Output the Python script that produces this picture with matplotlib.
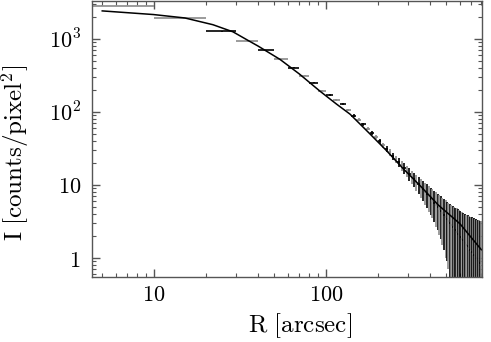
import matplotlib
matplotlib.use("Agg")
import matplotlib.pyplot as plt
from matplotlib.ticker import FixedLocator, FixedFormatter, LogLocator, NullFormatter

plt.rcParams['mathtext.fontset'] = 'cm'
plt.rcParams['font.family'] = 'serif'
plt.rcParams['font.serif'] = ['DejaVu Serif']

# binned surface brightness profile (bin centres, half width 5 arcsec)
R = [5, 15, 25, 35, 45, 55, 65, 75, 85, 95,
     105, 115, 125, 135, 145, 155, 165, 175, 185, 195,
     205, 215, 225, 235, 245, 255, 265, 275, 285, 295,
     305, 315, 325, 335, 345, 355, 365, 375, 385, 395,
     405, 415, 425, 435, 445, 455, 465, 475, 485, 495,
     505, 515, 525, 535, 545, 555, 565, 575, 585, 595,
     605, 615, 625, 635, 645, 655, 665, 675, 685, 695,
     705, 715, 725, 735, 745, 755, 765, 775, 785, 795]
R_halfwidth = 5

I = [2850, 1900, 1260, 930, 695, 525, 405, 312, 252, 196,
     170, 147, 128, 105, 89, 78, 68, 59, 52, 45,
     39.5, 35, 31, 28, 25, 22.5, 20.5, 18.5, 17, 15.5,
     14.2, 13, 12, 11, 10.2, 9.4, 8.7, 8.1, 7.5, 7.0,
     6.5, 6.1, 5.7, 5.3, 5.0, 4.7, 4.4, 4.1, 3.9, 3.6,
     3.4, 3.2, 3.0, 2.85, 2.7, 2.55, 2.4, 2.3, 2.15, 2.05,
     1.95, 1.85, 1.75, 1.65, 1.6, 1.5, 1.45, 1.35, 1.3, 1.25,
     1.2, 1.15, 1.1, 1.05, 1.0, 0.95, 0.9, 0.88, 0.85, 0.8]

I_err = [40, 30, 20, 15, 12, 9, 7, 6, 5, 4.5,
         4.2, 4, 3.8, 3.6, 3.4, 3.3, 3.2, 3.1, 3.0, 3.0,
         2.9, 2.9, 2.9, 2.9, 2.8, 2.8, 2.8, 2.8, 2.8, 2.8,
         2.7, 2.7, 2.7, 2.7, 2.7, 2.7, 2.7, 2.7, 2.7, 2.7,
         2.6, 2.6, 2.6, 2.6, 2.6, 2.6, 2.6, 2.6, 2.6, 2.6,
         2.5, 2.5, 2.5, 2.5, 2.5, 2.5, 2.5, 2.5, 2.5, 2.5,
         2.4, 2.4, 2.4, 2.4, 2.4, 2.4, 2.4, 2.4, 2.4, 2.4,
         2.4, 2.4, 2.4, 2.4, 2.4, 2.4, 2.4, 2.4, 2.4, 2.4]

# model profile
R_model = [5.0, 9.9, 15.1, 22, 28.8, 35.2, 40.3, 54, 70, 92, 115, 138,
           180, 225, 281, 352, 450, 601, 700, 800]
I_model = [2410, 2150, 1930, 1560, 1245, 951, 795, 523, 330, 193, 128, 93,
           50, 29.4, 16.7, 9.8, 5.3, 2.94, 1.9, 1.3]

fig = plt.figure(figsize=(4.91, 3.42), dpi=100)
ax = fig.add_axes([0.1874, 0.19, 0.7943, 0.807])

for i in range(len(R)):
    c = '#8a8a8a' if (i % 2 == 1 or i == 0) else 'black'
    lo = min(I_err[i], I[i] * 0.9999)
    ax.errorbar(R[i], I[i], xerr=R_halfwidth, yerr=[[lo], [I_err[i]]],
                fmt='none', ecolor=c, elinewidth=1.2, capsize=0)

ax.plot(R_model, I_model, color='black', lw=1.1)

ax.set_xscale('log')
ax.set_yscale('log')
ax.set_xlim(4.36, 807)
ax.set_ylim(0.55, 3290)

ax.xaxis.set_major_locator(FixedLocator([10, 100]))
ax.xaxis.set_major_formatter(FixedFormatter([r'$10$', r'$100$']))
ax.xaxis.set_minor_locator(LogLocator(base=10, subs=range(2, 10)))
ax.xaxis.set_minor_formatter(NullFormatter())
ax.yaxis.set_major_locator(FixedLocator([1, 10, 100, 1000]))
ax.yaxis.set_major_formatter(FixedFormatter([r'$1$', r'$10$', r'$10^2$', r'$10^3$']))
ax.yaxis.set_minor_locator(LogLocator(base=10, subs=range(2, 10)))
ax.yaxis.set_minor_formatter(NullFormatter())

ax.tick_params(which='both', direction='in', top=True, right=True, color='#555555')
ax.tick_params(which='major', length=6, width=1, labelsize=16, pad=8)
ax.tick_params(axis='x', which='major', pad=5)
ax.tick_params(which='minor', length=3, width=0.8)
for s in ax.spines.values():
    s.set_color('#555555')
    s.set_linewidth(1.0)

ax.set_xlabel(r'$\mathrm{R\ [arcsec]}$', fontsize=18)
ax.set_ylabel(r'$\mathrm{I\ [counts/pixel^2]}$', fontsize=18)
ax.xaxis.set_label_coords(0.533, -0.175)
ax.yaxis.set_label_coords(-0.197, 0.45)
ax.xaxis.label.set_va('center')
ax.yaxis.label.set_va('center')

fig.savefig('out.png', dpi=100)
